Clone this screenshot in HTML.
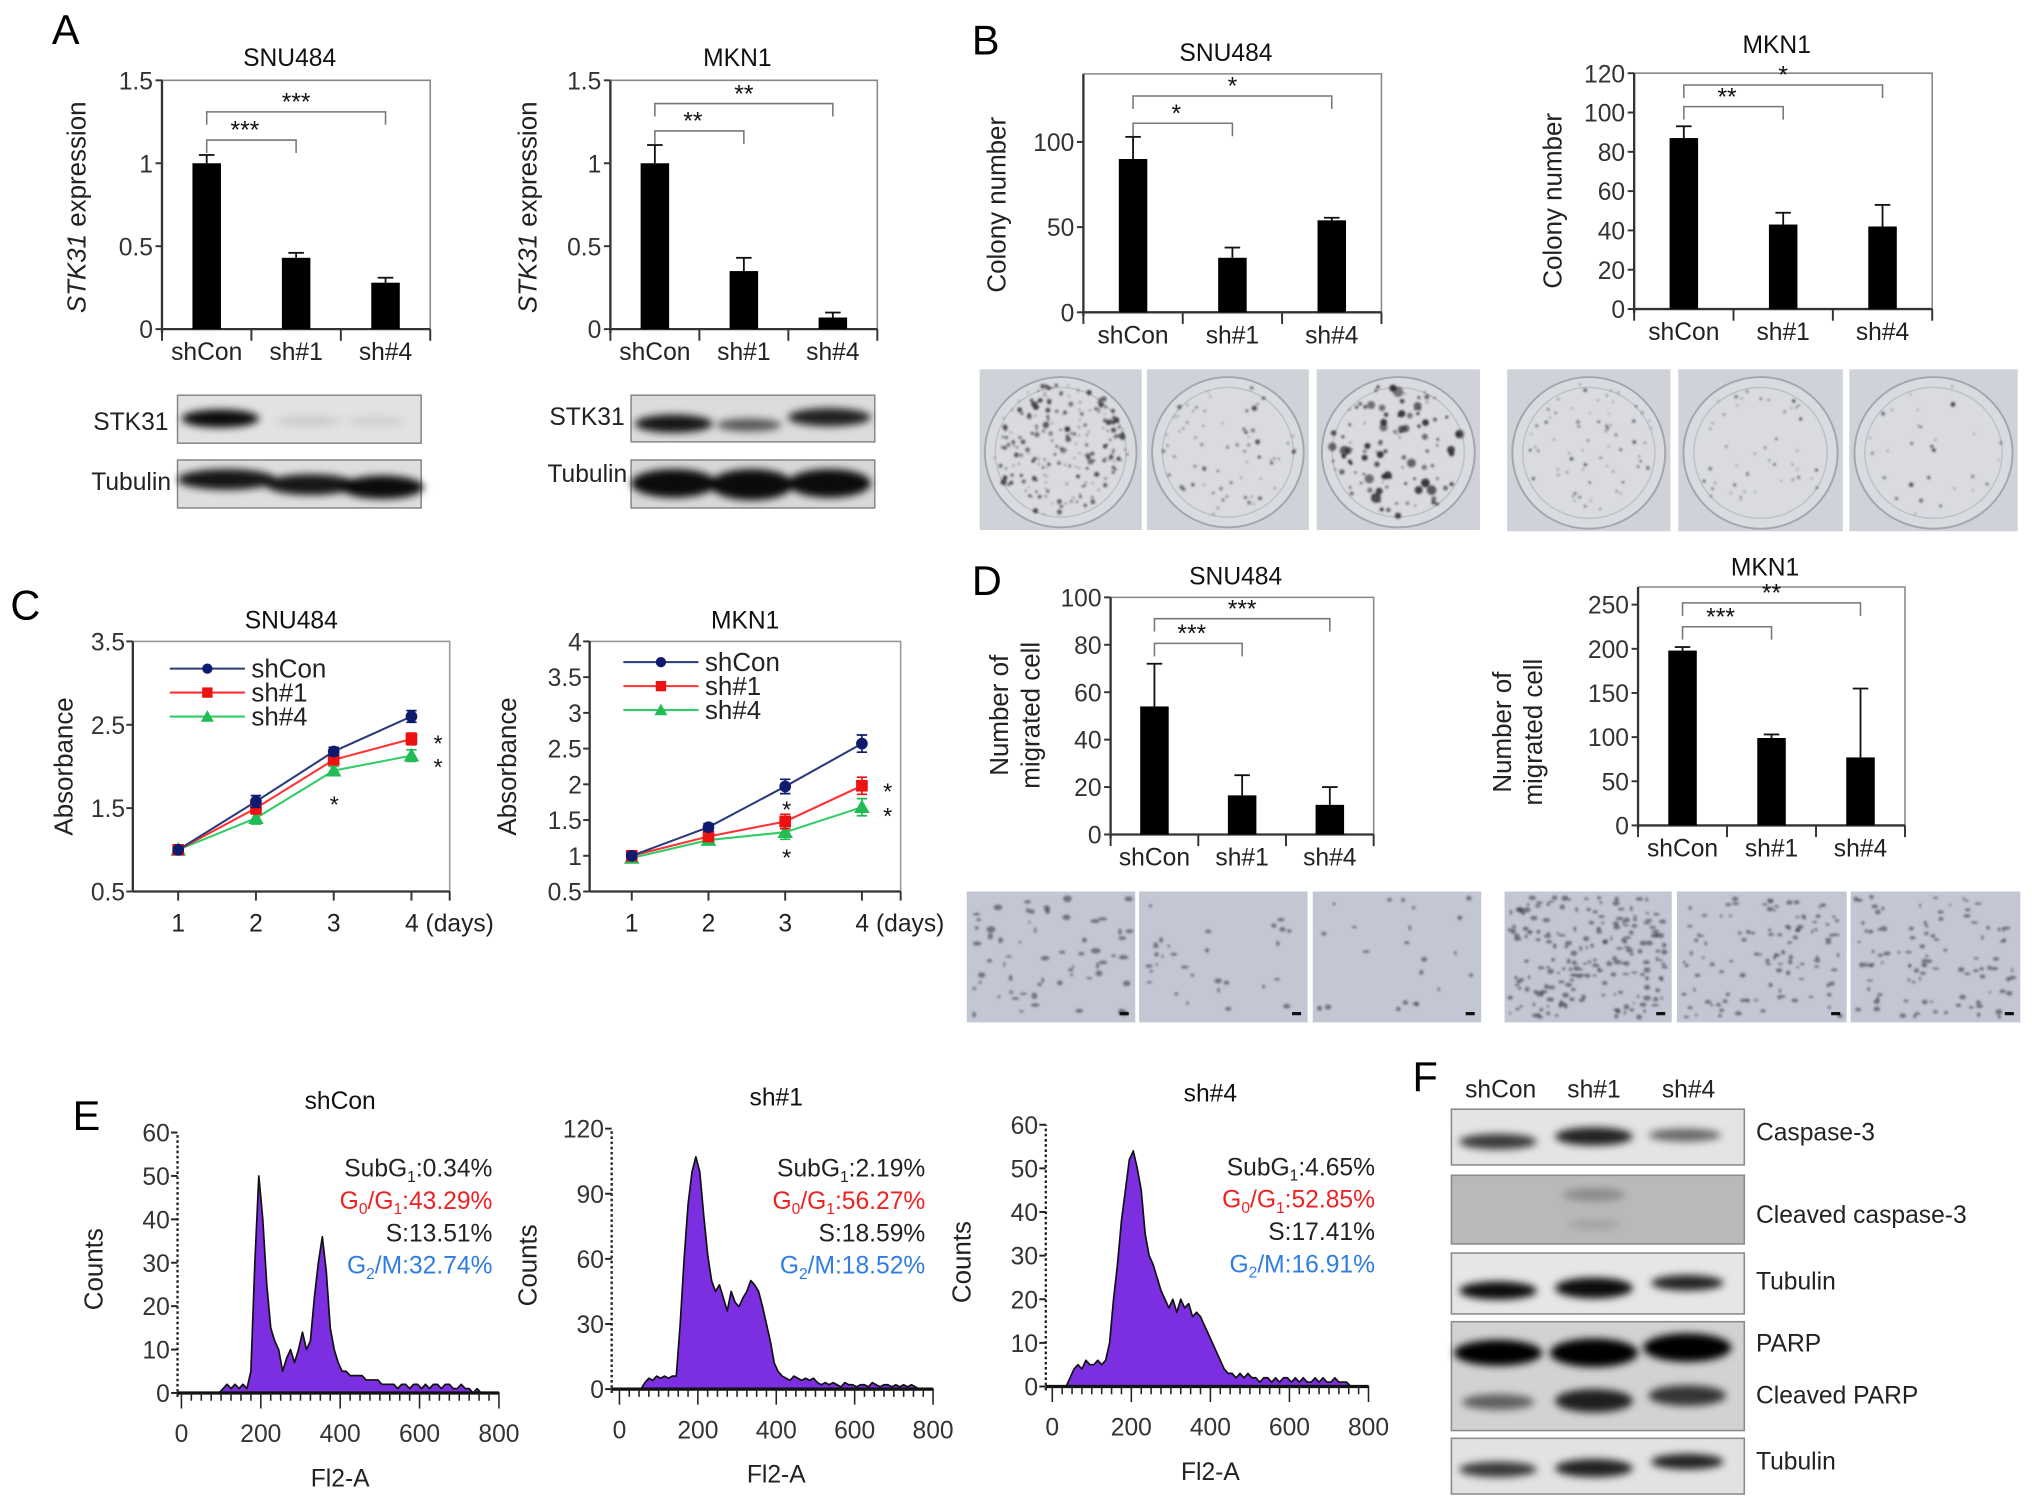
<!DOCTYPE html>
<html><head><meta charset="utf-8"><style>
html,body{margin:0;padding:0;background:#fff;}
svg{display:block;font-family:"Liberation Sans",sans-serif;}
</style></head><body>
<svg id="fig" xmlns="http://www.w3.org/2000/svg" width="2032" height="1507" viewBox="0 0 1568 1163" preserveAspectRatio="none">
<defs>
<filter id="blur3" x="-20%" y="-50%" width="140%" height="200%"><feGaussianBlur stdDeviation="3"/></filter>
<filter id="blur1" x="-50%" y="-50%" width="200%" height="200%"><feGaussianBlur stdDeviation="0.8"/></filter>
</defs>
<g id="root"></g>
</svg>
<script>
// ---------- DATA ----------
const cats = ['shCon','sh#1','sh#4'];
// A: STK31 expression
const aSnuVals = [1.0, 0.43, 0.28];
const aSnuErr = [0.05, 0.03, 0.03];
const aMknVals = [1.0, 0.35, 0.07];
const aMknErr = [0.11, 0.08, 0.03];
const aTicks = [0, 0.5, 1, 1.5];
const aTickLabels = ['0','0.5','1','1.5'];
// B: colony number
const bSnuVals = [90, 32, 54];
const bSnuErr = [13, 6, 1.5];
const bSnuTicks = [0, 50, 100];
const bMknVals = [87, 43, 42];
const bMknErr = [6, 6, 11];
const bMknTicks = [0, 20, 40, 60, 80, 100, 120];
// C: absorbance growth
const days = [1, 2, 3, 4];
const cSnuShCon = [1.0, 1.58, 2.18, 2.6];
const cSnuSh1 = [1.0, 1.5, 2.08, 2.33];
const cSnuSh4 = [1.0, 1.38, 1.95, 2.13];
const cSnuErr = [0.03, 0.07, 0.05, 0.07];
const cSnuTicks = [0.5, 1.5, 2.5, 3.5];
const cMknShCon = [1.0, 1.4, 1.97, 2.57];
const cMknSh1 = [1.0, 1.27, 1.48, 1.98];
const cMknSh4 = [0.97, 1.22, 1.33, 1.68];
const cMknErr = [0.04, 0.05, 0.1, 0.12];
const cMknTicks = [0.5, 1, 1.5, 2, 2.5, 3, 3.5, 4];
// D: migrated cells
const dSnuVals = [54, 16.5, 12.5];
const dSnuErr = [18, 8.5, 7.5];
const dSnuTicks = [0, 20, 40, 60, 80, 100];
const dMknVals = [198, 99, 77];
const dMknErr = [4, 4, 78];
const dMknTicks = [0, 50, 100, 150, 200, 250];
// E: cell cycle histograms (bins of 10 starting at 0)
const eShCon = [0,0,0,0,0,0,0,0,0,0, 1,2,1,2,1,2,1,5,30,50, 40,25,15,12,10,5,8,10,7,10, 14,10,12,22,30,36,28,15,10,7, 5,5,4,4,4,4,3,3,3,3, 2,2,2,2,1,2,2,1,2,2, 1,2,1,2,2,1,2,2,1,1, 2,1,1,0,1,0,0,0,0,0];
const eSh1 = [0,0,0,0,0,0,3,5,4,6, 5,6,5,6,6,30,60,85,100,107, 100,80,62,50,45,48,42,36,45,40, 38,42,45,50,48,45,38,30,22,12, 8,6,5,4,6,5,4,5,4,5, 3,2,3,2,3,2,1,3,2,2, 1,2,2,1,3,2,1,2,2,1, 2,1,2,1,2,1,0,0,0,0];
const eSh4 = [0,0,0,0,2,4,5,4,6,5, 5,6,5,6,10,20,28,38,45,52, 54,50,45,35,30,28,25,22,20,18, 20,17,20,18,19,16,17,16,14,12, 10,8,6,4,3,3,2,3,2,3, 2,2,1,2,2,1,2,1,2,2, 1,2,1,2,1,1,2,1,2,1, 1,2,1,1,1,0,0,0,0,0];
const eShConMax = 60, eSh1Max = 120, eSh4Max = 60;
const eTicksX = [0, 200, 400, 600, 800];
const eShConStats = ['0.34%','43.29%','13.51%','32.74%'];
const eSh1Stats = ['2.19%','56.27%','18.59%','18.52%'];
const eSh4Stats = ['4.65%','52.85%','17.41%','16.91%'];

// ---------- HELPERS ----------
const NS = 'http://www.w3.org/2000/svg';
const root = document.getElementById('root');
function mk(tag, attrs, parent) {
  const e = document.createElementNS(NS, tag);
  for (const k in attrs) e.setAttribute(k, attrs[k]);
  (parent || root).appendChild(e);
  return e;
}
function txt(x, y, s, size, anchor, parent, fill) {
  const t = mk('text', {x: x, y: y, 'font-size': size, 'text-anchor': anchor || 'middle', fill: fill || '#111'}, parent);
  t.textContent = s;
  return t;
}
function group(name) {
  const g = mk('g', {});
  
  
  return g;
}
let seed = 7;
function rnd() { seed = (seed * 16807) % 2147483647; return (seed - 1) / 2147483646; }

// panel letters
[['A',40,34],['B',750,42],['C',8,478],['D',750,459],['E',56,872],['F',1090,842]].forEach(function(p){
  const t = txt(p[1], p[2], p[0], 32, 'start', root, '#000');
  
  
});

// ---------- BAR CHART ----------
function barChart(o) {
  const g = group(o.name);
  const ys = function(v){ return o.y0 - (v / o.vmax) * (o.y0 - o.y1); };
  const slot = (o.x1 - o.x0) / 3;
  const cx = function(i){ return o.x0 + slot * (i + 0.5); };
  mk('polyline', {points: o.x0+','+o.y1+' '+o.x1+','+o.y1+' '+o.x1+','+o.y0, fill:'none', stroke:'#888', 'stroke-width':1.2}, g);
  const ax = mk('line', {x1:o.x0, y1:o.y0, x2:o.x1, y2:o.y0, stroke:'#333', 'stroke-width':1.8}, g);
  
  
  const ay = mk('line', {x1:o.x0, y1:o.y0+3, x2:o.x0, y2:o.y1, stroke:'#333', 'stroke-width':1.8}, g);
  
  
  for (let i = 0; i <= 3; i++) mk('line', {x1:o.x0+slot*i, y1:o.y0, x2:o.x0+slot*i, y2:o.y0+9, stroke:'#333', 'stroke-width':1.5}, g);
  o.ticks.forEach(function(t, i){
    mk('line', {x1:o.x0-5, y1:ys(t), x2:o.x0, y2:ys(t), stroke:'#333', 'stroke-width':1.5}, g);
    const l = txt(o.x0-7, ys(t)+7, o.tickLabels ? o.tickLabels[i] : String(t), 19, 'end', g, '#333');
    
    
  });
  o.vals.forEach(function(v, i){
    const top = ys(v + o.errs[i]);
    mk('line', {x1:cx(i), y1:ys(v), x2:cx(i), y2:top, stroke:'#111', 'stroke-width':1.4}, g);
    mk('line', {x1:cx(i)-6, y1:top, x2:cx(i)+6, y2:top, stroke:'#111', 'stroke-width':1.4}, g);
    const b = mk('rect', {x:cx(i)-11, y:ys(v), width:22, height:o.y0-ys(v), fill:'#000'}, g);
    
    
    const c = txt(cx(i), o.y0+24, cats[i], 19, 'middle', g, '#222');
    
    
  });
  o.brackets.forEach(function(br){
    const y = ys(br[1]);
    mk('polyline', {points: cx(0)+','+(y+10)+' '+cx(0)+','+y+' '+cx(br[0])+','+y+' '+cx(br[0])+','+(y+10), fill:'none', stroke:'#777', 'stroke-width':1.2}, g);
    const s = txt((cx(0)+cx(br[0]))/2 - (br[0]===1?5:0), y-1, br[2], 19, 'middle', g, '#111');
    
    
  });
  const tt = txt((o.x0+o.x1)/2 - 5, o.titleY, o.title, 19, 'middle', g, '#111');
  
  
  o.ylabel.forEach(function(line, i){
    const yl = mk('text', {x:0, y:0, 'font-size':20, 'text-anchor':'middle', fill:'#222', transform:'translate('+(o.ylx + i*24)+','+o.yly+') rotate(-90)'}, g);
    if (o.italicFirst) {
      const ts = mk('tspan', {'font-style':'italic'}, yl); ts.textContent = 'STK31';
      const ts2 = mk('tspan', {}, yl); ts2.textContent = ' expression';
    } else yl.textContent = line;
    
    
  });
  return g;
}
barChart({name:'chart-a-snu484', x0:125, x1:332, y0:254, y1:62, vmax:1.5, ticks:aTicks, tickLabels:aTickLabels, vals:aSnuVals, errs:aSnuErr, brackets:[[1,1.14,'***'],[2,1.31,'***']], title:'SNU484', titleY:51, ylabel:['STK31 expression'], italicFirst:true, ylx:66, yly:160});
barChart({name:'chart-a-mkn1', x0:471, x1:677, y0:254, y1:62, vmax:1.5, ticks:aTicks, tickLabels:aTickLabels, vals:aMknVals, errs:aMknErr, brackets:[[1,1.195,'**'],[2,1.36,'**']], title:'MKN1', titleY:51, ylabel:['STK31 expression'], italicFirst:true, ylx:414, yly:160});
barChart({name:'chart-b-snu484', x0:836, x1:1066, y0:241, y1:57, vmax:140, ticks:bSnuTicks, vals:bSnuVals, errs:bSnuErr, brackets:[[1,111,'*'],[2,127,'*']], title:'SNU484', titleY:47, ylabel:['Colony number'], ylx:776, yly:158});
barChart({name:'chart-b-mkn1', x0:1261, x1:1491, y0:238.5, y1:56.5, vmax:120, ticks:bMknTicks, vals:bMknVals, errs:bMknErr, brackets:[[1,103,'**'],[2,114,'*']], title:'MKN1', titleY:41, ylabel:['Colony number'], ylx:1205, yly:155});
barChart({name:'chart-d-snu484', x0:857, x1:1060, y0:644, y1:461, vmax:100, ticks:dSnuTicks, vals:dSnuVals, errs:dSnuErr, brackets:[[1,80.6,'***'],[2,91,'***']], title:'SNU484', titleY:451, ylabel:['Number of','migrated cell'], ylx:778, yly:552});
barChart({name:'chart-d-mkn1', x0:1264, x1:1470, y0:637, y1:453, vmax:270, ticks:dMknTicks, vals:dMknVals, errs:dMknErr, brackets:[[1,225,'***'],[2,252,'**']], title:'MKN1', titleY:444, ylabel:['Number of','migrated cell'], ylx:1166, yly:565});

// ---------- LINE CHART ----------
function lineChart(o) {
  const g = group(o.name);
  const ys = function(v){ return o.y0 - (v - o.vmin) / (o.vmax - o.vmin) * (o.y0 - o.y1); };
  const xs = function(d){ return o.xd1 + (d - 1) * o.step; };
  mk('polyline', {points: o.x0+','+o.y1+' '+o.x1+','+o.y1+' '+o.x1+','+o.y0, fill:'none', stroke:'#999', 'stroke-width':1.2}, g);
  const ax = mk('line', {x1:o.x0, y1:o.y0, x2:o.x1, y2:o.y0, stroke:'#333', 'stroke-width':1.8}, g);
  
  
  const ay = mk('line', {x1:o.x0, y1:o.y0, x2:o.x0, y2:o.y1, stroke:'#333', 'stroke-width':1.8}, g);
  
  
  o.ticks.forEach(function(t){
    mk('line', {x1:o.x0-5, y1:ys(t), x2:o.x0, y2:ys(t), stroke:'#333', 'stroke-width':1.5}, g);
    const l = txt(o.x0-6, ys(t)+7, String(t), 19, 'end', g, '#333');
    
    
  });
  days.forEach(function(d){
    mk('line', {x1:xs(d), y1:o.y0, x2:xs(d), y2:o.y0+7, stroke:'#333', 'stroke-width':1.5}, g);
    const l = txt(xs(d), o.y0+31, d === 4 ? '4 (days)' : String(d), 19, d === 4 ? 'start' : 'middle', g, '#222');
    if (d === 4) l.setAttribute('x', xs(d) - 5);
    
    
  });
  mk('line', {x1:o.x1, y1:o.y0, x2:o.x1, y2:o.y0+7, stroke:'#333', 'stroke-width':1.5}, g);
  const series = [[o.s1,'#2a3a7a','#0d1a6e','circle','shCon'],[o.s2,'#ff3333','#ee1111','square','sh#1'],[o.s3,'#33cc66','#22bb55','tri','sh#4']];
  series.slice().reverse().forEach(function(s){
    const pts = s[0].map(function(v,i){ return xs(days[i])+','+ys(v); }).join(' ');
    const pl = mk('polyline', {points:pts, fill:'none', stroke:s[1], 'stroke-width':1.6}, g);
    
    
    s[0].forEach(function(v,i){
      const x = xs(days[i]), y = ys(v), e = o.err[i] * (o.y0 - o.y1) / (o.vmax - o.vmin);
      mk('path', {d:'M'+(x-4)+','+(y-e)+'h8M'+x+','+(y-e)+'V'+(y+e)+'M'+(x-4)+','+(y+e)+'h8', stroke:s[2], 'stroke-width':1.3, fill:'none'}, g);
      let m;
      if (s[3]==='circle') m = mk('circle', {cx:x, cy:y, r:4.5, fill:s[2]}, g);
      else if (s[3]==='square') m = mk('rect', {x:x-4.5, y:y-4.5, width:9, height:9, fill:s[2]}, g);
      else m = mk('polygon', {points:(x)+','+(y-6)+' '+(x-6)+','+(y+4.5)+' '+(x+6)+','+(y+4.5), fill:s[2]}, g);
      
      
    });
  });
  series.forEach(function(s, i){
    const y = o.legY + i * 18.5;
    const lx = o.legX;
    mk('line', {x1:lx, y1:y, x2:lx+58, y2:y, stroke:s[1], 'stroke-width':1.6}, g);
    const cx = lx + 29;
    if (s[3]==='circle') mk('circle', {cx:cx, cy:y, r:4, fill:s[2]}, g);
    else if (s[3]==='square') mk('rect', {x:cx-4, y:y-4, width:8, height:8, fill:s[2]}, g);
    else mk('polygon', {points:cx+','+(y-5)+' '+(cx-5)+','+(y+4)+' '+(cx+5)+','+(y+4), fill:s[2]}, g);
    const l = txt(lx+63, y+7, s[4], 20, 'start', g, '#222');
    
    
  });
  o.stars.forEach(function(st){
    const s = txt(st[0], st[1], '*', 18, 'middle', g, '#111');
    
    
  });
  const tt = txt((o.x0+o.x1)/2, o.titleY, o.title, 19, 'middle', g, '#111');
  
  
  const yl = mk('text', {x:0, y:0, 'font-size':20, 'text-anchor':'middle', fill:'#222', transform:'translate('+o.ylx+','+((o.y0+o.y1)/2)+') rotate(-90)'}, g);
  yl.textContent = 'Absorbance';
  
  
}
lineChart({name:'chart-c-snu484', x0:102.5, x1:347, y0:688, y1:495, vmin:0.5, vmax:3.5, ticks:cSnuTicks, xd1:137.5, step:60, s1:cSnuShCon, s2:cSnuSh1, s3:cSnuSh4, err:cSnuErr, legX:131, legY:516, stars:[[338,580],[338,598],[258,627]], title:'SNU484', titleY:485, ylx:56});
lineChart({name:'chart-c-mkn1', x0:455, x1:695, y0:688, y1:495, vmin:0.5, vmax:4, ticks:cMknTicks, xd1:487.5, step:59.2, s1:cMknShCon, s2:cMknSh1, s3:cMknSh4, err:cMknErr, legX:481, legY:511, stars:[[685,617],[685,636],[607,631],[607,668]], title:'MKN1', titleY:485, ylx:398});

// ---------- WESTERN BLOTS ----------
function blot(name, x, y, w, h, bg, bands) {
  const g = group(name);
  mk('rect', {x:x, y:y, width:w, height:h, fill:bg, stroke:'#8a8a8a', 'stroke-width':1.2}, g);
  const gb = mk('g', {filter:'url(#blur3)'}, g);
  bands.forEach(function(b){
    const band = mk('ellipse', {cx:b[0], cy:b[1], rx:b[2], ry:b[3], fill:'#000', opacity:b[4]}, gb);
    
    
  });
}
function label(x, y, s, size, anchor, name) {
  const t = txt(x, y, s, size || 19, anchor || 'start', root, '#222');
  
  
}
blot('blot-a-snu-stk31', 137, 305, 188, 37, '#e2e2e2', [[170,323,30,7,0.95],[238,325,25,4,0.1],[290,325,22,4,0.08]]);
blot('blot-a-snu-tubulin', 137, 355, 188, 37, '#dedede', [[175,370,38,8,0.9],[240,374,35,8,0.9],[295,376,32,9,0.95]]);
label(130, 332, 'STK31', 19, 'end', 'blot-label-stk31');
label(132, 378, 'Tubulin', 19, 'end', 'blot-label-tubulin');
blot('blot-a-mkn-stk31', 487, 305, 188, 36, '#dcdcdc', [[520,327,30,7,0.9],[578,328,25,5,0.6],[640,322,32,7,0.85]]);
blot('blot-a-mkn-tubulin', 487, 355, 188, 37, '#d8d8d8', [[520,373,33,11,0.95],[580,374,32,12,0.95],[640,373,32,11,0.95]]);
label(482, 328, 'STK31', 19, 'end', 'blot-label-stk31-mkn1');
label(484, 372, 'Tubulin', 19, 'end', 'blot-label-tubulin-mkn1');

blot('blot-f-caspase3', 1120, 856, 226, 43, '#e4e4e4', [[1156,881,30,6,0.75],[1230,877,30,7,0.85],[1300,876,28,5,0.55]]);
blot('blot-f-cleaved-caspase3', 1120, 907, 226, 53, '#b9b9b9', [[1230,922,24,5,0.25],[1230,945,20,4,0.12]]);
blot('blot-f-tubulin1', 1120, 967, 226, 47, '#e6e6e6', [[1156,996,30,7,0.95],[1230,994,30,8,0.95],[1302,990,28,6,0.85]]);
blot('blot-f-parp', 1120, 1020, 226, 84, '#d2d2d2', [[1156,1044,34,10,1],[1230,1044,34,11,1],[1302,1040,34,11,1],[1156,1082,28,6,0.55],[1230,1081,30,9,0.85],[1302,1077,30,8,0.75]]);
blot('blot-f-tubulin2', 1120, 1110, 226, 43, '#e2e2e2', [[1156,1134,30,6,0.75],[1230,1133,30,7,0.85],[1302,1128,28,6,0.85]]);
label(1158, 847, 'shCon', 19, 'middle', 'lane-label-shcon');
label(1230, 847, 'sh#1', 19, 'middle', 'lane-label-sh1');
label(1303, 847, 'sh#4', 19, 'middle', 'lane-label-sh4');
label(1355, 880, 'Caspase-3', 19, 'start', 'blot-label-caspase3');
label(1355, 944, 'Cleaved caspase-3', 19, 'start', 'blot-label-cleaved-caspase3');
label(1355, 995, 'Tubulin', 19, 'start', 'blot-label-tubulin-f1');
label(1355, 1043, 'PARP', 19, 'start', 'blot-label-parp');
label(1355, 1083, 'Cleaved PARP', 19, 'start', 'blot-label-cleaved-parp');
label(1355, 1134, 'Tubulin', 19, 'start', 'blot-label-tubulin-f2');

// ---------- PHOTOS ----------
function colony(name, x, y, w, h, n, big, dark) {
  const g = group(name);
  mk('rect', {x:x, y:y, width:w, height:h, fill:'#cfd2d8'}, g);
  mk('ellipse', {cx:x+w/2, cy:y+h/2+2, rx:w/2-4, ry:h/2-4, fill:'#d9dbe0', stroke:'#a4a6ae', 'stroke-width':1.5}, g);
  mk('ellipse', {cx:x+w/2, cy:y+h/2+2, rx:w/2-12, ry:h/2-12, fill:'none', stroke:'#c0c2c9', 'stroke-width':1.2}, g);
  const gd = mk('g', {filter:'url(#blur1)'}, g);
  for (let i = 0; i < n; i++) {
    const a = rnd() * 6.283, r = Math.sqrt(rnd()) * 0.95;
    mk('circle', {cx:x+w/2+Math.cos(a)*r*(w/2-8), cy:y+h/2+Math.sin(a)*r*(h/2-8), r:0.6+rnd()*rnd()*big, fill:dark, opacity:0.55+rnd()*0.35}, gd);
  }
}
colony('colony-snu-shcon', 756, 285, 125, 124, 220, 2.2, '#333');
colony('colony-snu-sh1', 885, 285, 125, 124, 70, 1.6, '#3a3a3a');
colony('colony-snu-sh4', 1016, 285, 126, 124, 110, 4, '#222');
colony('colony-mkn-shcon', 1163, 285, 126, 125, 70, 1.2, '#3a3a44');
colony('colony-mkn-sh1', 1295, 285, 127, 125, 45, 1.2, '#3a3a44');
colony('colony-mkn-sh4', 1427, 285, 130, 125, 30, 1.4, '#3a3a44');
function migr(name, x, y, w, h, n, sz) {
  const g = group(name);
  mk('rect', {x:x, y:y, width:w, height:h, fill:'#c3c7d3'}, g);
  const gd = mk('g', {filter:'url(#blur1)'}, g);
  for (let i = 0; i < n; i++) {
    mk('ellipse', {cx:x+4+rnd()*(w-8), cy:y+4+rnd()*(h-8), rx:0.8+rnd()*sz, ry:0.8+rnd()*sz*0.6, fill:'#3a3d48', opacity:0.6}, gd);
  }
  mk('rect', {x:x+w-12, y:y+h-8, width:7, height:2.5, fill:'#111'}, g);
}
migr('migration-snu-shcon', 746, 688, 130, 101, 60, 3);
migr('migration-snu-sh1', 879, 688, 130, 101, 30, 2.2);
migr('migration-snu-sh4', 1013, 688, 130, 101, 22, 2.2);
migr('migration-mkn-shcon', 1161, 688, 129, 101, 200, 2.2);
migr('migration-mkn-sh1', 1294, 688, 131, 101, 110, 1.9);
migr('migration-mkn-sh4', 1428, 688, 131, 101, 100, 2);

// ---------- HISTOGRAMS ----------
function hist(o) {
  const g = group(o.name);
  const xs = function(v){ return o.x0 + v / 800 * (o.x1 - o.x0); };
  const ys = function(v){ return o.y0 - v / o.vmax * (o.y0 - o.y1); };
  let pts = xs(0)+','+o.y0+' ';
  o.data.forEach(function(v, i){ pts += xs(i*10+5)+','+ys(v)+' '; });
  pts += xs(800)+','+o.y0;
  const p = mk('polygon', {points:pts, fill:'#7b2fe0', stroke:'#111', 'stroke-width':1.3, 'stroke-linejoin':'round'}, g);
  
  
  mk('line', {x1:o.ax, y1:o.y0, x2:xs(800), y2:o.y0, stroke:'#111', 'stroke-width':2.5}, g);
  mk('line', {x1:o.ax, y1:o.y0+3, x2:o.ax, y2:o.y1, stroke:'#222', 'stroke-width':1.8, 'stroke-dasharray':'2,2'}, g);
  for (let v = 0; v <= 800; v += 25) mk('line', {x1:xs(v), y1:o.y0, x2:xs(v), y2:o.y0 + (v % 200 === 0 ? 12 : 6), stroke:'#222', 'stroke-width':1.2}, g);
  o.yticks.forEach(function(t){
    mk('line', {x1:o.ax-5, y1:ys(t), x2:o.ax, y2:ys(t), stroke:'#222', 'stroke-width':1.5}, g);
    const l = txt(o.ax-6, ys(t)+7, String(t), 19, 'end', g, '#333');
    
    
  });
  eTicksX.forEach(function(t){
    const l = txt(xs(t), o.y0+38, String(t), 19, 'middle', g, '#333');
    
    
  });
  const xt = txt((xs(0)+xs(800))/2, o.y0+72, 'Fl2-A', 19, 'middle', g, '#222');
  
  
  const yt = mk('text', {x:0, y:0, 'font-size':20, 'text-anchor':'middle', fill:'#222', transform:'translate('+(o.ax-58)+','+((o.y0+o.y1)/2+5)+') rotate(-90)'}, g);
  yt.textContent = 'Counts';
  
  
  const tt = txt((xs(0)+xs(800))/2, o.y1 - 18, o.title, 19, 'middle', g, '#111');
  
  
  const lines = [['SubG','1',':' + o.stats[0],'#222'],['G','0','/G','1',':' + o.stats[1],'#ee2222'],['S:' + o.stats[2],'#222'],['G','2','/M:' + o.stats[3],'#2f7de0']];
  lines.forEach(function(L, i){
    const col = L[L.length-1];
    const t = mk('text', {x:o.sx, y:o.sy + i*25, 'font-size':19, 'text-anchor':'end', fill:col}, g);
    for (let k = 0; k < L.length-1; k++) {
      const sub = (L[k] === '0' || L[k] === '1' || L[k] === '2') && L[k].length === 1;
      const ts = mk('tspan', sub ? {'font-size':12, dy:4} : (k > 0 && (L[k-1] === '0' || L[k-1] === '1' || L[k-1] === '2') ? {dy:-4} : {}), t);
      ts.textContent = L[k];
    }
    
    
  });
}
hist({name:'histogram-shcon', x0:140, x1:385, ax:137, y0:1075, y1:874, vmax:eShConMax, data:eShCon, yticks:[0,10,20,30,40,50,60], title:'shCon', stats:eShConStats, sx:380, sy:908});
hist({name:'histogram-sh1', x0:478, x1:720, ax:472, y0:1072, y1:871, vmax:eSh1Max, data:eSh1, yticks:[0,30,60,90,120], title:'sh#1', stats:eSh1Stats, sx:714, sy:908});
hist({name:'histogram-sh4', x0:812, x1:1056, ax:807, y0:1070, y1:868, vmax:eSh4Max, data:eSh4, yticks:[0,10,20,30,40,50,60], title:'sh#4', stats:eSh4Stats, sx:1061, sy:907});
</script>
</body></html>
